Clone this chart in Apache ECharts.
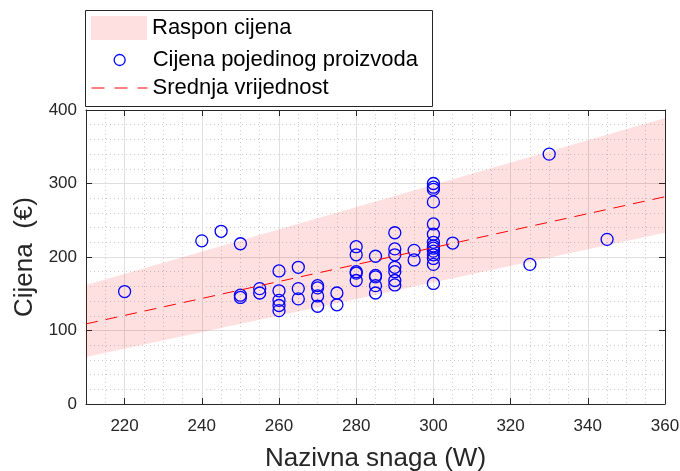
<!DOCTYPE html>
<html>
<head>
<meta charset="utf-8">
<script src="https://cdn.jsdelivr.net/npm/echarts@6/dist/echarts.min.js"></script>
<style>
  html, body { margin: 0; padding: 0; background: #fff; }
  #chart { width: 680px; height: 471px; }
</style>
</head>
<body>
<div id="chart"></div>
<script>
// Rated power (W) of each product and its price (€), paired by index
const powerW = [
  220,
  240,
  245,
  250, 250, 250,
  255, 255,
  260, 260, 260, 260, 260,
  265, 265, 265,
  270, 270, 270, 270,
  275, 275,
  280, 280, 280, 280, 280,
  285, 285, 285, 285, 285,
  290, 290, 290, 290, 290, 290, 290,
  295, 295,
  300, 300, 300, 300, 300, 300, 300, 300, 300, 300, 300, 300, 300, 300,
  305,
  325,
  330,
  345
];
const priceEur = [
  153,
  222,
  235,
  218, 148, 145,
  157, 151,
  181, 154, 141, 134, 127,
  186, 157, 143,
  161, 158, 147, 133,
  151, 135,
  214, 203, 180, 178, 168,
  201, 175, 173, 161, 151,
  233, 211, 203, 186, 180, 168, 162,
  209, 196,
  300, 295, 292, 275, 245, 231, 220, 215, 212, 208, 203, 198, 190, 164,
  219,
  190,
  340,
  224
];

// Price range band, given by its bounds at both ends of the power range
const bandPower = [210, 360];
const bandLow = [64, 233];
const bandHigh = [162, 389];

// Mean price line
const meanPower = [210, 360];
const meanPrice = [109, 282];

// Axis ticks
const xTicks = [220, 240, 260, 280, 300, 320, 340, 360];
const xRange = [210, 360];
const yRange = [0, 400];

const FONT = 'Liberation Sans';
const AXIS_COLOR = '#262626';
const GRID_MAJOR = '#dfdfdf';
const GRID_MINOR = '#cccccc';
const LEGEND_FONT = 22;

const chart = echarts.init(document.getElementById('chart'), null, { renderer: 'canvas' });

const scatterData = powerW.map((p, i) => [p, priceEur[i]]);
const meanData = meanPower.map((p, i) => [p, meanPrice[i]]);

const hidden = {
  axisLine: { show: false },
  axisTick: { show: false },
  axisLabel: { show: false }
};

const legendText = { fontSize: LEGEND_FONT, color: '#000', lineHeight: 24, fontFamily: FONT };

const option = {
  animation: false,
  textStyle: { fontFamily: FONT },
  grid: { left: 86, right: 15, top: 110, bottom: 67, containLabel: false, outerBoundsMode: 'none' },
  xAxis: [
    // minor dotted grid, every 5 W
    Object.assign({
      type: 'value', min: xRange[0], max: xRange[1], interval: 5, position: 'bottom',
      splitLine: { show: true, lineStyle: { color: GRID_MINOR, type: [1, 3], width: 1 } }
    }, hidden),
    // main bottom axis
    {
      type: 'value', min: xRange[0], max: xRange[1], position: 'bottom',
      name: 'Nazivna snaga (W)', nameLocation: 'middle', nameGap: 42,
      nameTextStyle: { fontSize: 26, color: AXIS_COLOR, fontFamily: FONT },
      axisLine: { show: true, onZero: false, lineStyle: { color: AXIS_COLOR, width: 1 } },
      axisTick: { show: true, inside: true, length: 6, customValues: xTicks, lineStyle: { color: AXIS_COLOR } },
      axisLabel: { show: true, customValues: xTicks, margin: 14, fontSize: 17, color: AXIS_COLOR, fontFamily: FONT },
      splitLine: { show: true, lineStyle: { color: GRID_MAJOR, width: 1 } }
    },
    // top box edge
    {
      type: 'value', min: xRange[0], max: xRange[1], position: 'top',
      axisLine: { show: true, onZero: false, lineStyle: { color: AXIS_COLOR, width: 1 } },
      axisTick: { show: true, inside: true, length: 6, customValues: xTicks, lineStyle: { color: AXIS_COLOR } },
      axisLabel: { show: false },
      splitLine: { show: false }
    }
  ],
  yAxis: [
    // minor dotted grid, every 20 €
    Object.assign({
      type: 'value', min: yRange[0], max: yRange[1], interval: 20, position: 'left',
      splitLine: { show: true, lineStyle: { color: GRID_MINOR, type: [1, 3], width: 1 } }
    }, hidden),
    // main left axis
    {
      type: 'value', min: yRange[0], max: yRange[1], interval: 100, position: 'left',
      name: 'Cijena  (€)', nameLocation: 'middle', nameGap: 47, nameRotate: 90,
      nameTextStyle: { fontSize: 26, color: AXIS_COLOR, fontFamily: FONT },
      axisLine: { show: true, onZero: false, lineStyle: { color: AXIS_COLOR, width: 1 } },
      axisTick: { show: true, inside: true, length: 6, lineStyle: { color: AXIS_COLOR } },
      axisLabel: { show: true, margin: 9, fontSize: 17, color: AXIS_COLOR, fontFamily: FONT },
      splitLine: { show: true, lineStyle: { color: GRID_MAJOR, width: 1 } }
    },
    // right box edge
    {
      type: 'value', min: yRange[0], max: yRange[1], interval: 100, position: 'right',
      axisLine: { show: true, onZero: false, lineStyle: { color: AXIS_COLOR, width: 1 } },
      axisTick: { show: true, inside: true, length: 6, lineStyle: { color: AXIS_COLOR } },
      axisLabel: { show: false },
      splitLine: { show: false }
    }
  ],
  legend: [
    {
      data: [{ name: 'Raspon cijena', icon: 'rect' }],
      left: 91, top: 16, padding: 0, orient: 'vertical',
      itemWidth: 56, itemHeight: 24, selectedMode: false,
      textStyle: legendText
    },
    {
      data: [{ name: 'Cijena pojedinog proizvoda', icon: 'circle' }],
      left: 113.5, top: 48, padding: 0, orient: 'vertical',
      itemWidth: 11, itemHeight: 11, selectedMode: false,
      itemStyle: { color: 'rgba(0,0,0,0)', borderColor: '#0000ff', borderWidth: 1.3 },
      textStyle: Object.assign({ padding: [0, 0, 0, 22.5] }, legendText)
    },
    {
      data: ['Srednja vrijednost'],
      left: 91, top: 76, padding: 0, orient: 'vertical',
      itemWidth: 56, itemHeight: 14, selectedMode: false,
      itemStyle: { opacity: 0 },
      lineStyle: { color: '#ff0000', width: 1, type: [13, 10], opacity: 1 },
      textStyle: legendText
    }
  ],
  graphic: [
    {
      type: 'rect', z: 1,
      shape: { x: 85.5, y: 10.5, width: 347, height: 96 },
      style: { fill: '#fff', stroke: AXIS_COLOR, lineWidth: 1 }
    }
  ],
  series: [
    {
      name: 'Raspon cijena',
      type: 'custom',
      xAxisIndex: 1, yAxisIndex: 1,
      itemStyle: { color: 'rgba(255,0,0,0.12)' },
      data: [[bandPower[0], bandLow[0]]],
      encode: { x: 0, y: 1 },
      silent: true,
      renderItem: function (params, api) {
        const pts = [
          api.coord([bandPower[0], bandLow[0]]),
          api.coord([bandPower[1], bandLow[1]]),
          api.coord([bandPower[1], bandHigh[1]]),
          api.coord([bandPower[0], bandHigh[0]])
        ];
        return {
          type: 'polygon',
          shape: { points: pts },
          style: { fill: api.visual('color'), stroke: null }
        };
      },
      z: 1
    },
    {
      name: 'Cijena pojedinog proizvoda',
      type: 'scatter',
      xAxisIndex: 1, yAxisIndex: 1,
      symbol: 'circle',
      symbolSize: 12,
      itemStyle: { color: 'rgba(0,0,0,0)', borderColor: '#0000ff', borderWidth: 1.3, opacity: 1 },
      data: scatterData,
      z: 3
    },
    {
      name: 'Srednja vrijednost',
      type: 'line',
      xAxisIndex: 1, yAxisIndex: 1,
      symbol: 'none',
      lineStyle: { color: '#ff0000', width: 1, type: [12, 8] },
      itemStyle: { color: '#ff0000' },
      data: meanData,
      z: 4
    }
  ]
};

chart.setOption(option);
</script>
</body>
</html>
